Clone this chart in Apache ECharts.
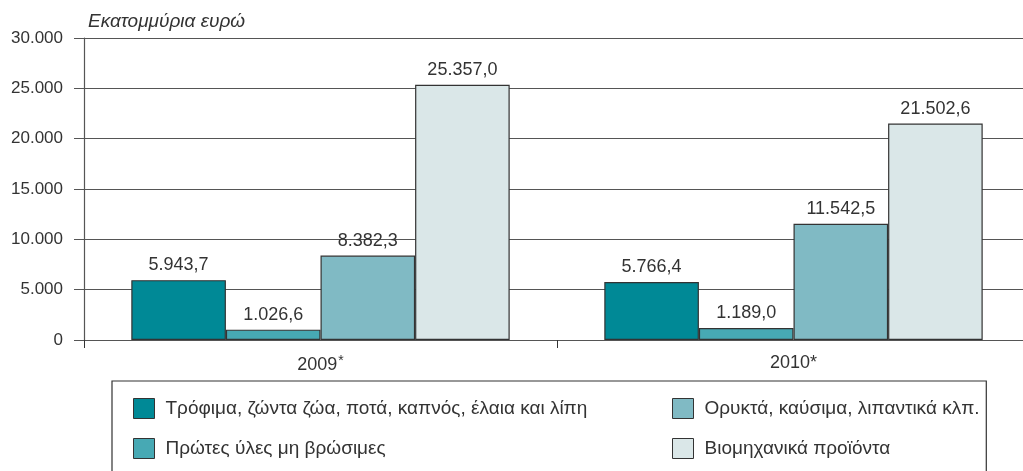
<!DOCTYPE html>
<html>
<head>
<meta charset="utf-8">
<script src="https://cdn.jsdelivr.net/npm/echarts@6/dist/echarts.min.js"></script>
<style>
  html, body { margin: 0; padding: 0; background: #fff; }
  #chart { width: 1023px; height: 471px; }
</style>
</head>
<body>
<div id="chart"></div>
<script>
// data
const years = ['2009', '2010'];
const food = [5943.7, 5766.4];
const rawMaterials = [1026.6, 1189.0];
const fuels = [8382.3, 11542.5];
const industrial = [25357.0, 21502.6];
const yTicks = [0, 5000, 10000, 15000, 20000, 25000, 30000];

const names = {
  food: 'Τρόφιμα, ζώντα ζώα, ποτά, καπνός, έλαια και λίπη',
  raw: 'Πρώτες ύλες μη βρώσιμες',
  fuels: 'Ορυκτά, καύσιμα, λιπαντικά κλπ.',
  ind: 'Βιομηχανικά προϊόντα'
};

const FONT = 'Liberation Sans, Arial, sans-serif';
const TXT = '#333';

// greek number format: 25.357,0
function fmtVal(v) {
  const [i, d] = v.toFixed(1).split('.');
  return i.replace(/\B(?=(\d{3})+(?!\d))/g, '.') + ',' + d;
}
function fmtTick(v) {
  return String(v).replace(/\B(?=(\d{3})+(?!\d))/g, '.');
}

function barSeries(name, data, color) {
  return {
    name, type: 'bar', data,
    barGap: 0, barCategoryGap: '20%',
    itemStyle: { color, borderColor: '#333', borderWidth: 1.2 },
    label: {
      show: true, position: 'top', distance: 6,
      color: TXT, fontSize: 18, fontFamily: FONT,
      formatter: p => fmtVal(p.value)
    }
  };
}

// shared legend look; two columns = two vertical legends
const legendBase = {
  orient: 'vertical', height: 70,
  itemWidth: 21, itemHeight: 20, itemGap: 19,
  icon: 'rect',
  itemStyle: { borderColor: '#333', borderWidth: 1 },
  textStyle: { color: TXT, fontSize: 19, padding: [0, 0, 0, 6] }
};

const chart = echarts.init(document.getElementById('chart'), null, { renderer: 'canvas' });

chart.setOption({
  animation: false,
  textStyle: { fontFamily: FONT },
  grid: { left: 84, top: 38, height: 302, width: 946, outerBoundsMode: 'none', containLabel: false },
  xAxis: {
    type: 'category', data: years,
    axisLine: { lineStyle: { color: '#555', width: 1 } },
    axisTick: { show: true, length: 8, interval: 0, lineStyle: { color: '#333' } },
    axisLabel: {
      margin: 14, color: TXT, fontSize: 18,
      formatter: v => v === '2009' ? '{a|2009}{s|*}' : v + '*',
      rich: {
        a: { fontSize: 18, color: TXT, fontFamily: FONT },
        s: { fontSize: 14, color: TXT, fontFamily: FONT, verticalAlign: 'top', padding: [0, 0, 8, 1] }
      }
    }
  },
  yAxis: {
    type: 'value', min: 0, max: 30000, interval: 5000,
    name: 'Εκατομμύρια ευρώ', nameLocation: 'end', nameGap: 16,
    nameTextStyle: { color: TXT, fontSize: 19, fontStyle: 'italic', align: 'left', verticalAlign: 'middle', padding: [0, 0, 0, 4] },
    axisLine: { show: true, lineStyle: { color: '#555', width: 1.2 } },
    axisTick: { show: true, length: 10, inside: false, lineStyle: { color: '#555' } },
    axisLabel: {
      margin: 21, color: TXT, fontSize: 17,
      formatter: v => yTicks.includes(v) ? fmtTick(v) : ''
    },
    splitLine: { show: true, lineStyle: { color: '#555', width: 1 } }
  },
  legend: [
    Object.assign({}, legendBase, {
      left: 112, top: 381,
      padding: [17, 399, 30, 21],
      borderColor: '#333', borderWidth: 1.2,
      data: [names.food, names.raw]
    }),
    Object.assign({}, legendBase, {
      left: 672, top: 398, padding: 0,
      data: [names.fuels, names.ind]
    })
  ],
  series: [
    barSeries(names.food, food, '#008996'),
    barSeries(names.raw, rawMaterials, '#47a9b4'),
    barSeries(names.fuels, fuels, '#80bac4'),
    barSeries(names.ind, industrial, '#dae7e8')
  ]
});
</script>
</body>
</html>
